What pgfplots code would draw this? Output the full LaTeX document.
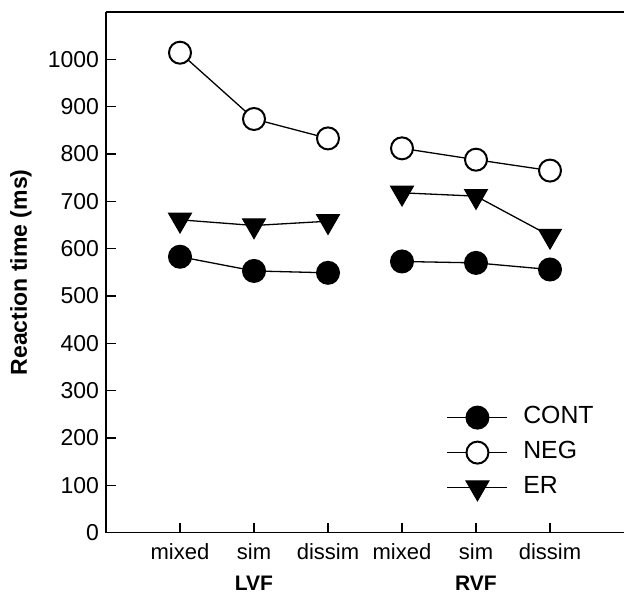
\documentclass[border=0pt]{standalone}
\usepackage{pgfplots}
\pgfplotsset{compat=1.18}
\usepackage{fontspec}
\setmainfont{Liberation Sans}
\usetikzlibrary{calc}

% reaction times (ms), x = 1..3 LVF, 4..6 RVF; nan row breaks the line
\pgfplotstableread{
x    cont  neg   er
1    583   1014  661
2    553   874   649
3    549   833   658
3.5  nan   nan   nan
4    573   812   718
5    570   788   711
6    556   765   627
}\rt

\begin{document}
\begin{tikzpicture}
\begin{axis}[
    name=ax,
    scale only axis,
    width=259pt, height=260.35pt,
    xmin=0, xmax=7,
    ymin=0, ymax=1100,
    unbounded coords=jump,
    axis x line*=bottom,
    axis y line*=left,
    axis line style={line width=0.75pt},
    xtick={1,...,6},
    xticklabels={mixed,sim,dissim,mixed,sim,dissim},
    ytick={0,100,...,1000},
    tick align=inside,
    major tick length=5pt,
    tick style={line width=0.7pt, black},
    ticklabel style={font=\fontsize{11}{13}\selectfont},
    yticklabel style={font=\fontsize{11.5}{13}\selectfont},
    xticklabel style={yshift=-2pt},
    /pgf/number format/assume math mode=true,
    /pgf/number format/1000 sep={},
    every axis y label/.style={at={(rel axis cs:0,0.5)}, xshift=-42.5pt, rotate=90, anchor=center},
    ylabel={\fontsize{11.5}{13}\selectfont\bfseries Reaction time (ms)},
    clip=false,
    legend style={draw=none, fill=none, inner sep=0pt,
        anchor=north west, at={(axis cs:4.6,281)},
        font=\fontsize{12.4}{14}\selectfont,
        nodes={inner ysep=0pt, inner xsep=0pt, text height=11.5pt, text depth=6pt},
        /tikz/every odd column/.style={column sep=7.6pt}},
    legend cell align=left,
    legend image code/.code={
        \draw[mark repeat=2, mark phase=2, #1] plot coordinates {(0pt,0pt) (15pt,0pt) (30pt,0pt)};},
]
\addplot[black, line width=0.65pt, mark=*, mark size=5.5pt,
    mark options={fill=black, line width=1pt}] table[x=x, y=cont] {\rt};
\addlegendentry{CONT}
\addplot[black, line width=0.65pt, mark=*, mark size=5.5pt,
    mark options={fill=white, line width=1pt}] table[x=x, y=neg] {\rt};
\addlegendentry{NEG}
\addplot[black, line width=0.65pt, mark=triangle*, mark size=6.6pt,
    mark options={fill=black, rotate=180, line width=0.5pt}] table[x=x, y=er] {\rt};
\addlegendentry{ER}
\draw[line width=0.8pt] (rel axis cs:0,1) -- (rel axis cs:1,1);
\node[font=\fontsize{10.5}{12}\selectfont\bfseries, inner sep=1pt] at ($(axis cs:2,0)+(0,-25.5pt)$) {LVF};
\node[font=\fontsize{10.5}{12}\selectfont\bfseries, inner sep=1pt] at ($(axis cs:5,0)+(0,-25.5pt)$) {RVF};
\end{axis}
\pgfresetboundingbox
\path[use as bounding box] ($(ax.south west)+(-53pt,-31.15pt)$) rectangle ($(ax.north east)+(0,6pt)$);
\end{tikzpicture}
\end{document}
